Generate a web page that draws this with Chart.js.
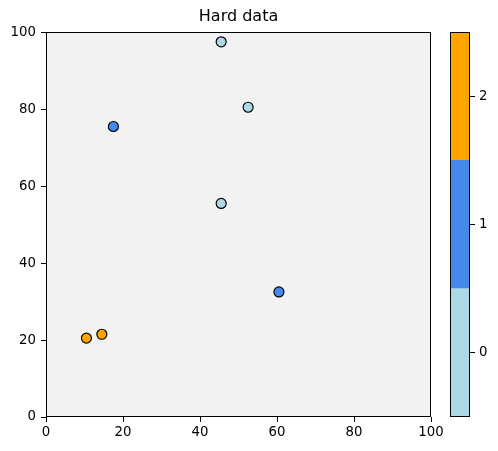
<!DOCTYPE html>
<html>
<head>
<meta charset="utf-8">
<script src="https://cdn.jsdelivr.net/npm/chart.js@4/dist/chart.umd.min.js"></script>
<style>
  html, body { margin: 0; padding: 0; background: #fff; }
  #wrap { position: relative; width: 498px; height: 451px; }
  #main { position: absolute; left: 0; top: 0; }
  #cbar { position: absolute; left: 440px; top: 0; }
</style>
</head>
<body>
<div id="wrap">
  <canvas id="main" width="498" height="451"></canvas>
  <canvas id="cbar" width="58" height="451"></canvas>
</div>
<script>
// ---- data ----
const pointX = [45.5, 52.5, 17.5, 45.5, 60.5, 10.5, 14.5];
const pointY = [97.5, 80.5, 75.5, 55.5, 32.5, 20.5, 21.5];
const pointClass = [0, 0, 1, 0, 1, 2, 2];
const classes = [0, 1, 2];
const classColors = ['#add8e6', '#4589ec', '#ffa500'];
const axisTicks = [0, 20, 40, 60, 80, 100];
const titleText = 'Hard data';

const FONT = "'DejaVu Sans', sans-serif";
Chart.defaults.font.family = FONT;
Chart.defaults.color = '#000';
Chart.defaults.animation = false;

const framePlugin = (bg) => ({
  id: 'frame',
  beforeDatasetsDraw(chart) {
    const a = chart.chartArea, c = chart.ctx;
    if (bg) { c.save(); c.fillStyle = bg; c.fillRect(a.left, a.top, a.right - a.left, a.bottom - a.top); c.restore(); }
  },
  afterDatasetsDraw(chart) {
    const a = chart.chartArea, c = chart.ctx;
    const l = Math.round(a.left), t = Math.round(a.top), r = Math.round(a.right), b = Math.round(a.bottom);
    c.save(); c.strokeStyle = '#000'; c.lineWidth = 1;
    c.strokeRect(l + 0.5, t + 0.5, r - l - 1, b - t - 1);
    c.restore();
  }
});

// main scatter
new Chart(document.getElementById('main'), {
  type: 'scatter',
  data: {
    datasets: [{
      data: pointX.map((x, i) => ({ x, y: pointY[i] })),
      pointRadius: 5,
      pointHoverRadius: 5,
      pointBorderWidth: 1.2,
      pointBorderColor: '#000',
      pointBackgroundColor: pointClass.map(k => classColors[k])
    }]
  },
  options: {
    responsive: false,
    layout: { padding: { left: 0, right: 67, top: 0, bottom: 0 } },
    plugins: {
      legend: { display: false },
      tooltip: { enabled: false },
      title: { display: true, fullSize: false, text: titleText, font: { size: 16, weight: 'normal', family: FONT }, color: '#000', padding: { top: 7, bottom: 6 } }
    },
    scales: {
      x: {
        type: 'linear', min: 0, max: 100,
        afterBuildTicks: s => { s.ticks = axisTicks.map(v => ({ value: v })); },
        afterFit: s => { s.height = 34; },
        grid: { drawOnChartArea: false, drawTicks: true, tickLength: 5, color: '#000' },
        border: { display: false },
        ticks: { font: { size: 13.3, family: FONT }, color: '#000', padding: 3, maxRotation: 0 }
      },
      y: {
        type: 'linear', min: 0, max: 100,
        afterBuildTicks: s => { s.ticks = axisTicks.map(v => ({ value: v })); },
        afterFit: s => { s.width = 46; },
        grid: { drawOnChartArea: false, drawTicks: true, tickLength: 5, color: '#000' },
        border: { display: false },
        ticks: { font: { size: 13.3, family: FONT }, color: '#000', padding: 5 }
      }
    }
  },
  plugins: [framePlugin('#f2f2f2')]
});

// colorbar
new Chart(document.getElementById('cbar'), {
  type: 'bar',
  data: {
    labels: ['cb'],
    datasets: classes.map((k, i) => ({
      data: [[k - 0.5, k + 0.5]],
      backgroundColor: classColors[i],
      borderWidth: 0,
      barPercentage: 1,
      categoryPercentage: 1,
      grouped: false
    }))
  },
  options: {
    responsive: false,
    layout: { padding: { left: 10, right: 0, top: 32, bottom: 34 } },
    plugins: { legend: { display: false }, tooltip: { enabled: false }, title: { display: false } },
    scales: {
      x: { display: false },
      y: {
        position: 'right', min: -0.5, max: 2.5,
        afterBuildTicks: s => { s.ticks = classes.map(v => ({ value: v })); },
        afterFit: s => { s.width = 28; },
        grid: { drawOnChartArea: false, drawTicks: true, tickLength: 5, color: '#000' },
        border: { display: false },
        ticks: { font: { size: 13.3, family: FONT }, color: '#000', padding: 4 }
      }
    }
  },
  plugins: [framePlugin(null)]
});
</script>
</body>
</html>
